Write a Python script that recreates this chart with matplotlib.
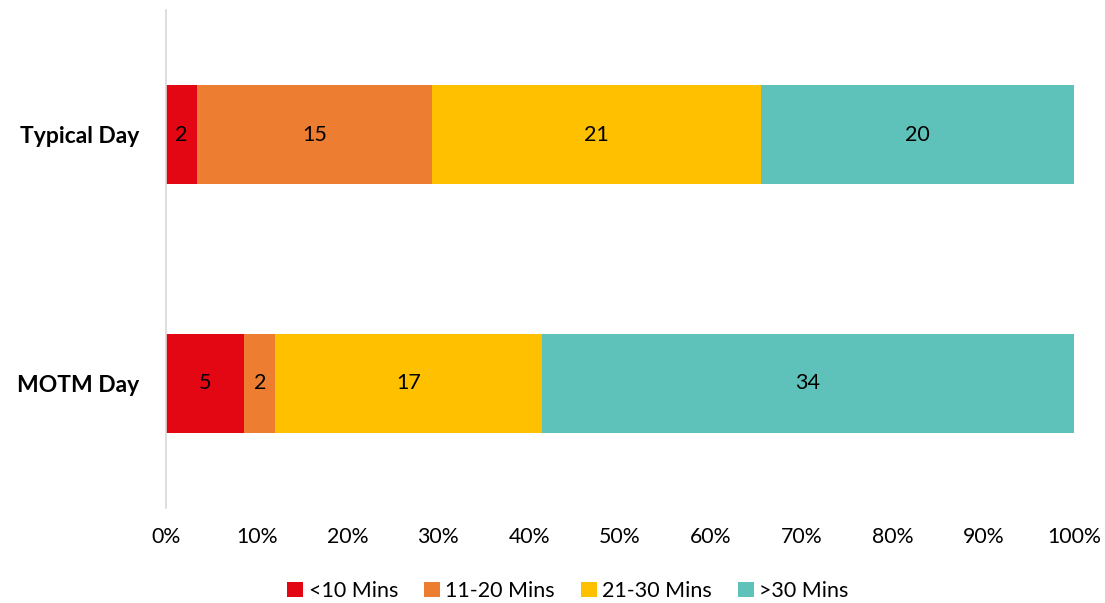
import matplotlib.pyplot as plt

plt.rcParams["font.family"] = ["Lato", "DejaVu Sans"]

days = ["Typical Day", "MOTM Day"]
groups = ["<10 Mins", "11-20 Mins", "21-30 Mins", ">30 Mins"]
counts = {
    "<10 Mins": [2, 5],
    "11-20 Mins": [15, 2],
    "21-30 Mins": [21, 17],
    ">30 Mins": [20, 34],
}
colors = ["#E30613", "#ED7D31", "#FFC000", "#5EC1BA"]

totals = [sum(counts[g][i] for g in groups) for i in range(len(days))]

fig = plt.figure(figsize=(11.05, 6.03), dpi=100)
ax = fig.add_axes([0.150, 0.158, 0.822, 0.825])

ypos = list(range(len(days)))
left = [0.0] * len(days)
for g, c in zip(groups, colors):
    share = [counts[g][i] / totals[i] for i in range(len(days))]
    bars = ax.barh(ypos, share, left=left, height=0.4, color=c, label=g)
    for b, v in zip(bars, counts[g]):
        ax.text(b.get_x() + b.get_width() / 2, b.get_y() + b.get_height() / 2,
                str(v), ha="center", va="center", fontsize=15.5, color="black")
    left = [l + s for l, s in zip(left, share)]

ax.set_xlim(0, 1)
ax.set_ylim(1.5, -0.5)
ax.set_yticks(ypos)
ax.set_yticklabels(days, fontsize=16.5, fontweight="bold")
ax.set_xticks([i / 10 for i in range(11)])
ax.set_xticklabels([f"{i * 10}%" for i in range(11)], fontsize=15.3)
ax.tick_params(axis="both", length=0)
ax.tick_params(axis="x", pad=14)
ax.tick_params(axis="y", pad=19)
for s in ["top", "right", "bottom"]:
    ax.spines[s].set_visible(False)
ax.spines["left"].set_color("#D9D9D9")
ax.spines["left"].set_linewidth(1.2)

fig.legend(loc="center", bbox_to_anchor=(0.514, 0.02), ncol=4, frameon=False,
           fontsize=15.5, handlelength=0.75, handleheight=0.75, handletextpad=0.25,
           columnspacing=1.2)

fig.savefig("out.png", dpi=100)
